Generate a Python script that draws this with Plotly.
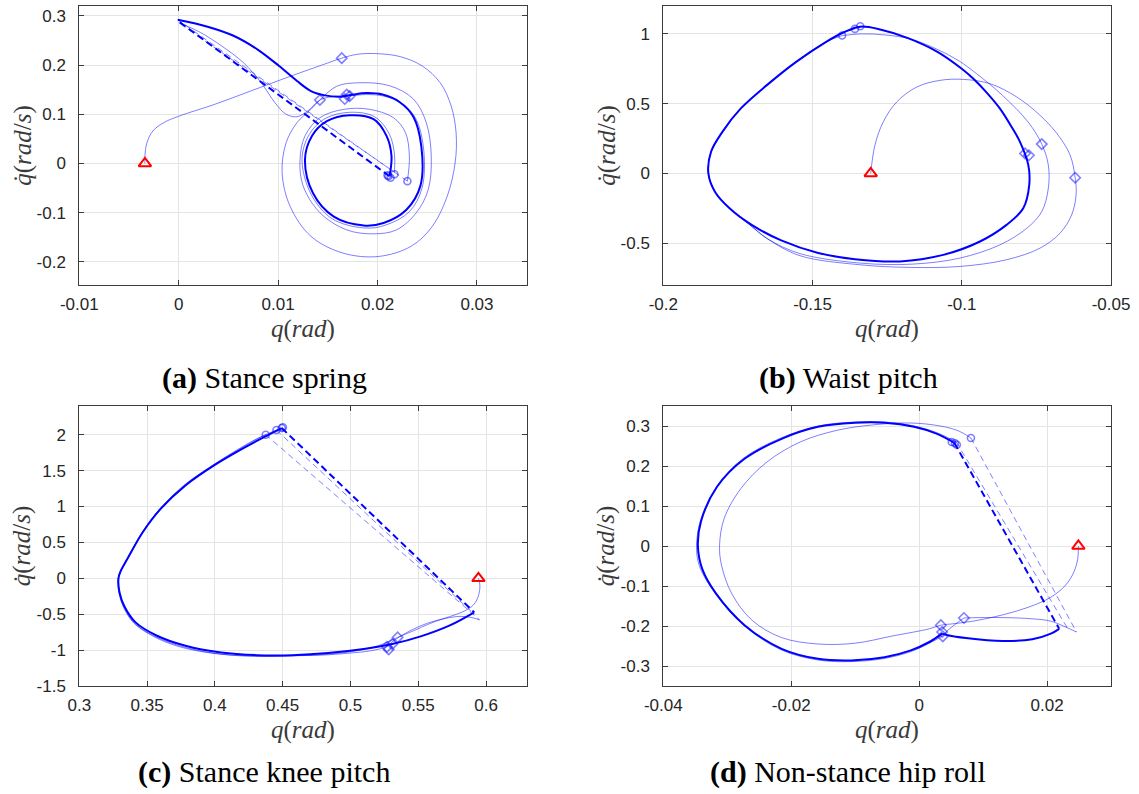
import plotly.graph_objects as go

# ---------------- (a) Stance spring ----------------
a_init_q = [-0.0034]
a_init_dq = [0.0]

a_step1_q = [-0.0034, -0.0034, -0.0032, -0.0026, -0.0015, 0.0, 0.0036, 0.0072, 0.0108, 0.0144, 0.0164,
             0.018, 0.0201, 0.0223, 0.0245, 0.0263, 0.0274, 0.0279, 0.0278, 0.027, 0.0255, 0.0234, 0.0201,
             0.0165, 0.0133, 0.0112, 0.0104, 0.0108, 0.0119, 0.0133, 0.0142,
             0.0159, 0.0182, 0.0212, 0.0236, 0.0249, 0.0254, 0.0251, 0.0239, 0.0219, 0.0196, 0.0169, 0.0142,
             0.0125, 0.0122, 0.0127, 0.0142, 0.0166, 0.0192, 0.0216, 0.0228, 0.0232, 0.023]
a_step1_dq = [0.0, 0.015, 0.042, 0.066, 0.083, 0.096, 0.12, 0.147, 0.174, 0.2, 0.214,
              0.222, 0.223, 0.217, 0.198, 0.164, 0.117, 0.062, 0.001, -0.067, -0.128, -0.168, -0.189,
              -0.182, -0.148, -0.087, -0.019, 0.042, 0.083, 0.11, 0.129,
              0.157, 0.164, 0.158, 0.131, 0.083, 0.015, -0.053, -0.1, -0.135, -0.143, -0.135, -0.1,
              -0.045, 0.008, 0.056, 0.093, 0.11, 0.11, 0.093, 0.063, 0.015, -0.036]

a_step2_q = [0.0, 0.0004, 0.0022, 0.0043, 0.0065, 0.0083, 0.0097, 0.0108, 0.0119, 0.013, 0.0142, 0.0155,
             0.0169, 0.0189, 0.0206, 0.0224, 0.0238, 0.0246, 0.0245, 0.0232, 0.0207, 0.0186, 0.0154,
             0.0133, 0.0124, 0.0131, 0.0147, 0.0172, 0.0197, 0.0212, 0.0217, 0.0217]
a_step2_dq = [0.286, 0.283, 0.266, 0.239, 0.205, 0.164, 0.123, 0.1, 0.095, 0.107, 0.129, 0.136,
              0.137, 0.14, 0.137, 0.123, 0.093, 0.035, -0.048, -0.098, -0.126, -0.131, -0.112,
              -0.062, 0.008, 0.058, 0.091, 0.104, 0.095, 0.059, 0.018, -0.018]

a_cycle_q = [-0.0001, 0.0029, 0.0054, 0.0079, 0.0101, 0.0119, 0.0133, 0.0147, 0.0162, 0.0173, 0.0189,
             0.0205, 0.0222, 0.0236, 0.0244, 0.0243, 0.0229, 0.0206, 0.0186, 0.0156, 0.0135,
             0.0127, 0.0134, 0.0149, 0.0172, 0.0196, 0.0209, 0.0214, 0.0212]
a_cycle_dq = [0.292, 0.278, 0.2605, 0.232, 0.198, 0.1676, 0.1472, 0.1384, 0.1357, 0.1391, 0.143,
              0.14, 0.125, 0.095, 0.035, -0.046, -0.094, -0.121, -0.126, -0.108, -0.06,
              0.008, 0.056, 0.086, 0.098, 0.09, 0.056, 0.015, -0.026]

a_reset_cycle_q = [0.0212, -0.0001]
a_reset_cycle_dq = [-0.026, 0.29]
a_reset1_q = [0.023, 0.0]
a_reset1_dq = [-0.036, 0.286]
a_reset2_q = [0.0217, -0.0001]
a_reset2_dq = [-0.018, 0.292]

a_diamond_q = [0.0164, 0.0142, 0.0167, 0.0169, 0.0172]
a_diamond_dq = [0.214, 0.129, 0.131, 0.140, 0.137]
a_circle_q = [0.023, 0.0217, 0.0211, 0.0213, 0.0210]
a_circle_dq = [-0.036, -0.022, -0.026, -0.029, -0.024]

# ---------------- (b) Waist pitch ----------------
b_init_q = [-0.1305]
b_init_dq = [0.0]

b_step1_q = [-0.1305, -0.1291, -0.1263, -0.1218, -0.1151, -0.1073, -0.0995, -0.0905, -0.0816, -0.0738,
             -0.0677, -0.0637, -0.062, -0.0617, -0.0632, -0.0671, -0.0738, -0.085, -0.1006, -0.1173,
             -0.1341, -0.1542, -0.165, -0.1715, -0.1778, -0.1827, -0.1849, -0.184, -0.1802, -0.1741,
             -0.1654, -0.1556, -0.1457, -0.1401]
b_step1_dq = [0.0, 0.202, 0.369, 0.512, 0.619, 0.667, 0.674, 0.643, 0.548, 0.417,
              0.274, 0.131, -0.031, -0.155, -0.298, -0.429, -0.536, -0.619, -0.667, -0.674,
              -0.655, -0.59, -0.47, -0.36, -0.25, -0.131, 0.0, 0.155, 0.298, 0.464,
              0.631, 0.798, 0.94, 0.988]

b_step2_q = [-0.1401, -0.1333, -0.1259, -0.1173, -0.1086, -0.1012, -0.095, -0.0864, -0.0778, -0.0732,
             -0.071, -0.071, -0.0732, -0.0782, -0.0872, -0.1006, -0.1162, -0.134, -0.1542, -0.165,
             -0.1715, -0.1778, -0.1827, -0.1849, -0.184, -0.1802, -0.1741, -0.1654, -0.1556, -0.1457,
             -0.1395, -0.1358]
b_step2_dq = [0.988, 1.0, 0.993, 0.964, 0.893, 0.81, 0.714, 0.56, 0.369, 0.21,
              0.06, -0.107, -0.274, -0.393, -0.512, -0.607, -0.65, -0.643, -0.575, -0.47,
              -0.36, -0.25, -0.131, 0.0, 0.155, 0.298, 0.464, 0.631, 0.798, 0.94,
              1.012, 1.036]

b_cycle_q = [-0.134, -0.127, -0.118, -0.108, -0.1, -0.0961, -0.0915, -0.0872, -0.0835, -0.0805,
             -0.0777, -0.0774, -0.0794, -0.085, -0.0939, -0.1062, -0.1207, -0.1358, -0.1481, -0.1605,
             -0.1704, -0.1778, -0.1827, -0.1849, -0.184, -0.1802, -0.1741, -0.1654, -0.1556, -0.1457,
             -0.1395, -0.134]
b_cycle_dq = [1.052, 1.03, 0.97, 0.87, 0.75, 0.678, 0.575, 0.464, 0.34, 0.226,
              0.059, -0.084, -0.25, -0.369, -0.488, -0.584, -0.631, -0.615, -0.57, -0.48,
              -0.369, -0.25, -0.131, 0.0, 0.155, 0.298, 0.464, 0.631, 0.798, 0.94,
              1.012, 1.052]

b_diamond_q = [-0.062, -0.0732, -0.0788, -0.0775]
b_diamond_dq = [-0.031, 0.21, 0.143, 0.13]
b_circle_q = [-0.1401, -0.1358, -0.134]
b_circle_dq = [0.988, 1.036, 1.055]

# ---------------- (c) Stance knee pitch ----------------
c_init_q = [0.5944]
c_init_dq = [0.0]

c_step1_q = [0.5944, 0.5955, 0.5944, 0.5913, 0.586, 0.5781, 0.5676, 0.5571, 0.5466, 0.5348,
             0.5203, 0.5045, 0.4835, 0.4572, 0.4309, 0.4046, 0.3783, 0.3573, 0.3415, 0.3335,
             0.3297, 0.3289, 0.3305, 0.3333, 0.3363, 0.3463, 0.3594, 0.377, 0.3981, 0.4178, 0.4309, 0.4375]
c_step1_dq = [0.0, -0.102, -0.242, -0.358, -0.437, -0.502, -0.567, -0.642, -0.73, -0.823,
              -0.94, -1.009, -1.056, -1.079, -1.088, -1.056, -0.963, -0.823, -0.637, -0.42,
              -0.2, 0.0, 0.1, 0.2, 0.3, 0.63, 0.967, 1.293, 1.572, 1.805, 1.944, 2.0]

c_step2_q = [0.5952, 0.5886, 0.5808, 0.5702, 0.5571, 0.544, 0.5308, 0.5269, 0.515, 0.4993,
             0.4782, 0.4519, 0.4257, 0.3994, 0.3731, 0.3547, 0.3402, 0.3328, 0.3292, 0.3286,
             0.3303, 0.3332, 0.3362, 0.3463, 0.3599, 0.3783, 0.3994, 0.4204, 0.4349, 0.4454]
c_step2_dq = [-0.577, -0.544, -0.53, -0.558, -0.623, -0.73, -0.884, -0.949, -1.009, -1.042,
              -1.07, -1.079, -1.079, -1.047, -0.949, -0.809, -0.623, -0.41, -0.2, 0.0,
              0.1, 0.2, 0.3, 0.64, 0.977, 1.302, 1.581, 1.823, 1.977, 2.065]

c_cycle_q = [0.5913, 0.5729, 0.5518, 0.5308, 0.5098, 0.4835, 0.4572, 0.4309, 0.4046, 0.3783,
             0.3573, 0.3415, 0.3335, 0.3297, 0.3289, 0.3305, 0.3333, 0.3363, 0.3468, 0.36, 0.3783,
             0.3994, 0.4204, 0.4362, 0.4493]
c_cycle_dq = [-0.474, -0.66, -0.809, -0.916, -0.986, -1.042, -1.07, -1.07, -1.033, -0.94,
              -0.8, -0.614, -0.4, -0.2, 0.0, 0.1, 0.2, 0.3, 0.642, 0.967, 1.293,
              1.572, 1.805, 1.967, 2.093]

c_reset_cycle_q = [0.4493, 0.5913]
c_reset_cycle_dq = [2.093, -0.474]
c_reset1_q = [0.4375, 0.5952]
c_reset1_dq = [2.0, -0.577]
c_reset2_q = [0.4454, 0.5913]
c_reset2_dq = [2.065, -0.5]

c_diamond_q = [0.5348, 0.5308, 0.5269, 0.5282]
c_diamond_dq = [-0.823, -0.916, -0.955, -0.99]
c_circle_q = [0.4375, 0.4454, 0.4493, 0.4502]
c_circle_dq = [2.0, 2.065, 2.093, 2.105]

# ---------------- (d) Non-stance hip roll ----------------
d_init_q = [0.0249]
d_init_dq = [0.0]

d_step1_q = [0.0249, 0.0248, 0.0242, 0.0229, 0.0206, 0.0171, 0.0131, 0.0091, 0.0056, 0.0034,
             0.0016, -0.0042, -0.01, -0.0158, -0.0215, -0.0261, -0.0293, -0.0309, -0.0312, -0.0305,
             -0.0279, -0.0238, -0.0186, -0.0129, -0.0071, -0.0013, 0.0033, 0.0062, 0.0081]
d_step1_dq = [0.0, -0.032, -0.065, -0.098, -0.128, -0.153, -0.172, -0.186, -0.194, -0.198,
              -0.207, -0.225, -0.243, -0.245, -0.229, -0.186, -0.119, -0.048, 0.002, 0.068,
              0.143, 0.21, 0.26, 0.289, 0.303, 0.3075, 0.3, 0.2875, 0.27]

d_step2a_q = [0.0246, 0.0229, 0.0206, 0.0177, 0.0131, 0.0096, 0.007]
d_step2a_dq = [-0.215, -0.2025, -0.188, -0.182, -0.179, -0.179, -0.18]
d_step2b_q = [0.007, 0.0053, 0.0042, 0.0036, 0.0016, -0.0013, -0.0054, -0.0106, -0.0158, -0.0215,
              -0.0273, -0.032, -0.0344, -0.0348, -0.0341, -0.0315, -0.0275, -0.0216, -0.0158, -0.01,
              -0.0054, -0.0008, 0.0028, 0.0058]
d_step2b_dq = [-0.18, -0.2, -0.215, -0.225, -0.243, -0.264, -0.281, -0.289, -0.285, -0.26,
               -0.2, -0.116, -0.048, 0.002, 0.068, 0.152, 0.219, 0.27, 0.3, 0.31,
               0.31, 0.3, 0.283, 0.26]

d_cycle_a_q = [0.0219, 0.0206, 0.0177, 0.0131, 0.0073, 0.0045, 0.0036]
d_cycle_a_dq = [-0.207, -0.219, -0.233, -0.2375, -0.23, -0.223, -0.219]
d_cycle_b_q = [0.0036, 0.0016, -0.0013, -0.0054, -0.0106, -0.0158, -0.0215, -0.0273, -0.0318, -0.0339,
               -0.0346, -0.0341, -0.0316, -0.0273, -0.0215, -0.0158, -0.01, -0.0054, -0.0008, 0.0027,
               0.0055]
d_cycle_b_dq = [-0.219, -0.24, -0.261, -0.278, -0.286, -0.282, -0.257, -0.198, -0.118, -0.058,
                0.002, 0.062, 0.148, 0.218, 0.268, 0.298, 0.308, 0.308, 0.298, 0.281,
                0.258]

d_reset_cycle_q = [0.0055, 0.0219]
d_reset_cycle_dq = [0.258, -0.207]
d_reset1_q = [0.0081, 0.0246]
d_reset1_dq = [0.27, -0.215]
d_reset2_q = [0.0058, 0.0234]
d_reset2_dq = [0.26, -0.211]

d_diamond_q = [0.0034, 0.007, 0.0036, 0.0037]
d_diamond_dq = [-0.198, -0.18, -0.215, -0.226]
d_circle_q = [0.0081, 0.0051, 0.0056, 0.0059]
d_circle_dq = [0.27, 0.26, 0.257, 0.253]

# ---------------- axes ticks ----------------
a_qticks = [-0.01, 0, 0.01, 0.02, 0.03]
a_qlabels = ["-0.01", "0", "0.01", "0.02", "0.03"]
a_dqticks = [-0.2, -0.1, 0, 0.1, 0.2, 0.3]
a_dqlabels = ["-0.2", "-0.1", "0", "0.1", "0.2", "0.3"]
b_qticks = [-0.2, -0.15, -0.1, -0.05]
b_qlabels = ["-0.2", "-0.15", "-0.1", "-0.05"]
b_dqticks = [-0.5, 0, 0.5, 1]
b_dqlabels = ["-0.5", "0", "0.5", "1"]
c_qticks = [0.3, 0.35, 0.4, 0.45, 0.5, 0.55, 0.6]
c_qlabels = ["0.3", "0.35", "0.4", "0.45", "0.5", "0.55", "0.6"]
c_dqticks = [-1.5, -1, -0.5, 0, 0.5, 1, 1.5, 2]
c_dqlabels = ["-1.5", "-1", "-0.5", "0", "0.5", "1", "1.5", "2"]
d_qticks = [-0.04, -0.02, 0, 0.02]
d_qlabels = ["-0.04", "-0.02", "0", "0.02"]
d_dqticks = [-0.3, -0.2, -0.1, 0, 0.1, 0.2, 0.3]
d_dqlabels = ["-0.3", "-0.2", "-0.1", "0", "0.1", "0.2", "0.3"]

captions = ["<b>(a)</b> Stance spring", "<b>(b)</b> Waist pitch",
            "<b>(c)</b> Stance knee pitch", "<b>(d)</b> Non-stance hip roll"]

# ---------------- styling ----------------
W, H = 1139, 794
THIN = "rgba(0,0,255,0.5)"
THICK = "rgb(0,0,255)"
MARK = "rgba(0,0,255,0.5)"
GRID = "#e4e4e4"
FRAME = "#3c3c3c"
TICKFONT = dict(family="Liberation Sans, Arial, sans-serif", size=17, color="#262626")
SERIF = "Liberation Serif, Times New Roman, serif"

fig = go.Figure()


def curve(q, dq, ax, thick=False, dashed=False):
    fig.add_trace(go.Scatter(
        x=q, y=dq, xaxis=ax[0], yaxis=ax[1], mode="lines",
        line=dict(color=THICK if thick else THIN, width=2 if thick else 1,
                  shape="linear" if dashed else "spline", smoothing=1.0,
                  dash=("7px,4px" if thick else "6px,4px") if dashed else "solid"),
        hoverinfo="skip", showlegend=False))


def marks(q, dq, ax, symbol, color=MARK, size=8, width=1.6):
    fig.add_trace(go.Scatter(
        x=q, y=dq, xaxis=ax[0], yaxis=ax[1], mode="markers",
        marker=dict(symbol=symbol, size=size, color=color, line=dict(color=color, width=width)),
        hoverinfo="skip", showlegend=False))


AX = [("x", "y"), ("x2", "y2"), ("x3", "y3"), ("x4", "y4")]

# (a)
curve(a_step1_q, a_step1_dq, AX[0])
curve(a_step2_q, a_step2_dq, AX[0])
curve(a_reset1_q, a_reset1_dq, AX[0], dashed=True)
curve(a_reset2_q, a_reset2_dq, AX[0], dashed=True)
curve(a_cycle_q, a_cycle_dq, AX[0], thick=True)
curve(a_reset_cycle_q, a_reset_cycle_dq, AX[0], thick=True, dashed=True)
marks(a_diamond_q, a_diamond_dq, AX[0], "diamond-open")
marks(a_circle_q, a_circle_dq, AX[0], "circle-open", size=7)
marks(a_init_q, a_init_dq, AX[0], "triangle-up-open", color="red", size=11, width=2)

# (b)
curve(b_step1_q, b_step1_dq, AX[1])
curve(b_step2_q, b_step2_dq, AX[1])
curve(b_cycle_q, b_cycle_dq, AX[1], thick=True)
marks(b_diamond_q, b_diamond_dq, AX[1], "diamond-open")
marks(b_circle_q, b_circle_dq, AX[1], "circle-open", size=7)
marks(b_init_q, b_init_dq, AX[1], "triangle-up-open", color="red", size=11, width=2)

# (c)
curve(c_step1_q, c_step1_dq, AX[2])
curve(c_step2_q, c_step2_dq, AX[2])
curve(c_reset1_q, c_reset1_dq, AX[2], dashed=True)
curve(c_reset2_q, c_reset2_dq, AX[2], dashed=True)
curve(c_cycle_q, c_cycle_dq, AX[2], thick=True)
curve(c_reset_cycle_q, c_reset_cycle_dq, AX[2], thick=True, dashed=True)
marks(c_diamond_q, c_diamond_dq, AX[2], "diamond-open")
marks(c_circle_q, c_circle_dq, AX[2], "circle-open", size=7)
marks(c_init_q, c_init_dq, AX[2], "triangle-up-open", color="red", size=11, width=2)

# (d)
curve(d_step1_q, d_step1_dq, AX[3])
curve(d_step2a_q, d_step2a_dq, AX[3])
curve(d_step2b_q, d_step2b_dq, AX[3])
curve(d_reset1_q, d_reset1_dq, AX[3], dashed=True)
curve(d_reset2_q, d_reset2_dq, AX[3], dashed=True)
curve(d_cycle_a_q, d_cycle_a_dq, AX[3], thick=True)
curve(d_cycle_b_q, d_cycle_b_dq, AX[3], thick=True)
curve(d_reset_cycle_q, d_reset_cycle_dq, AX[3], thick=True, dashed=True)
marks(d_diamond_q, d_diamond_dq, AX[3], "diamond-open")
marks(d_circle_q, d_circle_dq, AX[3], "circle-open", size=7)
marks(d_init_q, d_init_dq, AX[3], "triangle-up-open", color="red", size=11, width=2)

# panel boxes in pixels: left, right, top, bottom
boxes = [(79.3, 526.7, 6, 285), (663.3, 1111, 6, 285),
         (79.3, 526.7, 406, 686), (663.3, 1111, 406, 686)]
caption_y = [378, 378, 772, 772]
x_ranges = [[-0.01, 0.035], [-0.2, -0.05], [0.3, 0.63], [-0.04, 0.03]]
y_ranges = [[-0.247, 0.32], [-0.8, 1.2], [-1.5, 2.4], [-0.35, 0.35]]
x_ticks = [(a_qticks, a_qlabels), (b_qticks, b_qlabels), (c_qticks, c_qlabels), (d_qticks, d_qlabels)]
y_ticks = [(a_dqticks, a_dqlabels), (b_dqticks, b_dqlabels), (c_dqticks, c_dqlabels), (d_dqticks, d_dqlabels)]


def axis(rng, ticks, domain, anchor, standoff):
    return dict(range=rng, domain=domain, anchor=anchor, automargin=False,
                tickmode="array", tickvals=ticks[0], ticktext=ticks[1],
                showgrid=True, gridcolor=GRID, gridwidth=1, zeroline=False,
                showline=True, linecolor=FRAME, linewidth=1, mirror="ticks",
                ticks="inside", ticklen=5, tickwidth=1, tickcolor=FRAME,
                tickfont=TICKFONT, ticklabelstandoff=standoff, fixedrange=True)


layout = dict(width=W, height=H, margin=dict(l=0, r=0, t=0, b=0, pad=0, autoexpand=False),
              paper_bgcolor="white", plot_bgcolor="white", showlegend=False)
annotations = []
for i, (l, r, t, b) in enumerate(boxes):
    sfx = "" if i == 0 else str(i + 1)
    xd = [l / W, r / W]
    yd = [1 - b / H, 1 - t / H]
    layout["xaxis" + sfx] = axis(x_ranges[i], x_ticks[i], xd, "y" + sfx, 4)
    layout["yaxis" + sfx] = axis(y_ranges[i], y_ticks[i], yd, "x" + sfx, 9)
    cx = (l + r) / 2
    annotations.append(dict(text="<i>q</i>(<i>rad</i>)", x=cx / W, y=1 - (b + 44) / H,
                            xref="paper", yref="paper", showarrow=False, xanchor="center", yanchor="middle",
                            font=dict(family=SERIF, size=25, color="#3a3a3a")))
    annotations.append(dict(text="<i>q\u0307</i>(<i>rad</i>/<i>s</i>)", x=(l - 57) / W, y=1 - (t + b) / 2 / H,
                            xref="paper", yref="paper", showarrow=False, textangle=-90,
                            xanchor="center", yanchor="middle",
                            font=dict(family=SERIF, size=25, color="#3a3a3a")))
    annotations.append(dict(text=captions[i], x=(cx - 39) / W, y=1 - caption_y[i] / H,
                            xref="paper", yref="paper", showarrow=False, xanchor="center", yanchor="middle",
                            font=dict(family=SERIF, size=30, color="black")))
layout["annotations"] = annotations
fig.update_layout(**layout)

fig.write_html("out.html")
